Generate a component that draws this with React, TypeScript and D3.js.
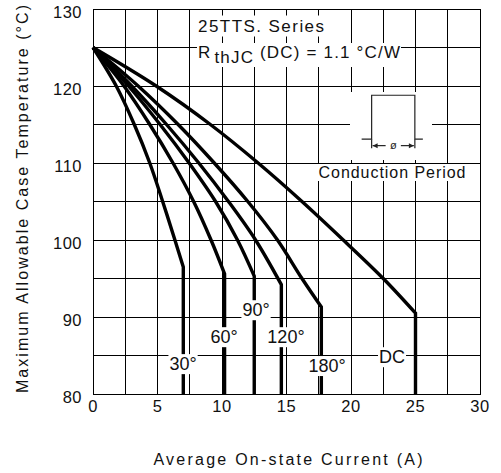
import React, { useLayoutEffect, useRef, useState } from "react";
import * as d3 from "d3";

const W = 501;
const H = 473;

const xTicks = [0, 5, 10, 15, 20, 25, 30];
const yTicks = [80, 90, 100, 110, 120, 130];
const xGrid = [0, 2.5, 5, 7.5, 10, 12.5, 15, 17.5, 20, 22.5, 25, 27.5, 30];
const yGrid = [80, 85, 90, 95, 100, 105, 110, 115, 120, 125, 130];

// [current A, case temperature °C]
const curve30: [number, number][] = [[0, 125], [1.8, 120], [3.2, 115], [4.4, 110], [5.4, 105], [6.35, 100], [7.0, 96.5]];
const curve60: [number, number][] = [[0, 125], [2.4, 120], [4.4, 115], [6.2, 110], [7.8, 105], [9.15, 100], [10.2, 95.6]];
const curve90: [number, number][] = [[0, 125], [2.75, 120], [5.2, 115], [7.45, 110], [9.5, 105], [11.2, 100], [12.5, 95.3]];
const curve120: [number, number][] = [[0, 125], [3.0, 120], [5.7, 115], [8.2, 110], [10.5, 105], [12.6, 100], [14.6, 94.2]];
const curve180: [number, number][] = [[0, 125], [3.5, 120], [6.6, 115], [9.4, 110], [12.0, 105], [14.3, 100], [16.2, 95], [17.7, 91.3]];
const curveDC: [number, number][] = [[0, 125], [4.9, 120], [9.1, 115], [12.8, 110], [16.2, 105], [19.4, 100], [22.5, 95], [25, 90.5]];

const curves = [curve30, curve60, curve90, curve120, curve180, curveDC];
const curveLabels = ["30°", "60°", "90°", "120°", "180°", "DC"];
// label anchor positions (current, temperature of baseline)
const labelX = [6.98, 10.16, 12.64, 14.96, 18.14, 23.18];
const labelY = [83.1, 86.6, 90.1, 86.6, 82.85, 84.0];

const FONT = "'Liberation Sans', Arial, Helvetica, sans-serif";

const x = d3.scaleLinear().domain([0, 30]).range([93, 480]);
const y = d3.scaleLinear().domain([80, 130]).range([394, 9]);

function BoxedText(props: {
  x: number; y: number; size: number; anchor?: string; padX?: number; padY?: number;
  textLength?: number; children: React.ReactNode;
}) {
  const ref = useRef<SVGTextElement>(null);
  const [box, setBox] = useState<{ x: number; y: number; width: number; height: number } | null>(null);
  useLayoutEffect(() => {
    if (ref.current) {
      const b = ref.current.getBBox();
      setBox({ x: b.x, y: b.y, width: b.width, height: b.height });
    }
  }, []);
  const px = props.padX ?? 2;
  const py = props.padY ?? 0;
  return (
    <g>
      {box && (
        <rect x={box.x - px} y={box.y - py} width={box.width + 2 * px} height={box.height + 2 * py} fill="#fff" />
      )}
      <text
        ref={ref}
        x={props.x}
        y={props.y}
        fontSize={props.size}
        textAnchor={props.anchor ?? "start"}
        fontFamily={FONT}
        fill="#111"
        textLength={props.textLength}
        lengthAdjust={props.textLength ? "spacing" : undefined}
      >
        {props.children}
      </text>
    </g>
  );
}

export default function App() {
  const line = d3
    .line<[number, number]>()
    .x((d) => x(d[0]))
    .y((d) => y(d[1]))
    .curve(d3.curveCatmullRom.alpha(0.5));

  const paths = curves.map((c) => {
    const last = c[c.length - 1];
    return `${line(c)}L${x(last[0])},${y(80)}`;
  });

  // inset anchor (pulse diagram)
  const pl = x(21.6);
  const pr = x(24.95);
  const pt = y(118.8);
  const pb = y(113.1);

  return (
    <svg width={W} height={H} style={{ position: "absolute", left: 0, top: 0 }} fontFamily={FONT}>
      <rect width={W} height={H} fill="#fff" />
      {/* grid */}
      <g stroke="#000" strokeWidth={1} shapeRendering="crispEdges">
        {xGrid.map((g) => (
          <line key={"x" + g} x1={x(g)} x2={x(g)} y1={y(80)} y2={y(130)} />
        ))}
        {yGrid.map((g) => (
          <line key={"y" + g} x1={x(0)} x2={x(30)} y1={y(g)} y2={y(g)} />
        ))}
        <rect x={x(0)} y={y(130)} width={x(30) - x(0)} height={y(80) - y(130)} fill="none" />
      </g>

      {/* header texts */}
      <BoxedText x={198} y={31.5} size={17} textLength={126} padX={1} padY={1}>
        25TTS. Series
      </BoxedText>
      <BoxedText x={198} y={58} size={17} textLength={202} padX={1} padY={0}>
        R<tspan dx={3} dy={5}>thJC</tspan>
        <tspan dy={-5}> (DC) = 1.1 °C/W</tspan>
      </BoxedText>

      {/* inset */}
      <rect x={350} y={92} width={82} height={68} fill="#fff" />
      <g stroke="#222" strokeWidth={1.2} fill="none">
        <path d={`M${pl - 10},${pb}H${pl}V${pt}H${pr}V${pb}H${pr + 8}`} />
        <line x1={pl} x2={pl} y1={pb} y2={pb + 9} />
        <line x1={pr} x2={pr} y1={pb} y2={pb + 9} />
        <line x1={pl + 1} x2={pl + 14} y1={pb + 6.5} y2={pb + 6.5} />
        <line x1={pr - 14} x2={pr - 1} y1={pb + 6.5} y2={pb + 6.5} />
      </g>
      <g fill="#222">
        <path d={`M${pl + 1},${pb + 6.5}l5,-2.5v5z`} />
        <path d={`M${pr - 1},${pb + 6.5}l-5,-2.5v5z`} />
      </g>
      <text x={(pl + pr) / 2} y={pb + 10} fontSize={11} textAnchor="middle" fill="#222">
        ø
      </text>
      <BoxedText x={392} y={178} size={16} anchor="middle" textLength={147} padX={2} padY={0}>
        Conduction Period
      </BoxedText>

      {/* curves */}
      <g fill="none" stroke="#000" strokeWidth={3.4} strokeLinejoin="miter">
        {paths.map((p, i) => (
          <path key={i} d={p} />
        ))}
      </g>

      {/* curve labels */}
      {curveLabels.map((l, i) => (
        <BoxedText key={l} x={x(labelX[i])} y={y(labelY[i])} size={18} anchor="middle" padX={1} padY={0}>
          {l}
        </BoxedText>
      ))}

      {/* tick labels */}
      <g fontSize={16.5} fill="#111">
        {xTicks.map((t) => (
          <text key={"xt" + t} x={x(t)} y={412} textAnchor="middle" letterSpacing={0.5}>
            {t}
          </text>
        ))}
        {yTicks.map((t) => (
          <text key={"yt" + t} x={82} y={y(t) + 8.5} textAnchor="end" letterSpacing={0.5}>
            {t}
          </text>
        ))}
      </g>

      {/* axis titles */}
      <text x={288} y={465} fontSize={16} textAnchor="middle" fill="#111" textLength={269} lengthAdjust="spacing">
        Average On-state Current (A)
      </text>
      <text
        transform={`translate(28,199) rotate(-90)`}
        fontSize={16}
        textAnchor="middle"
        fill="#111"
        textLength={388}
        lengthAdjust="spacing"
      >
        Maximum Allowable Case Temperature (°C)
      </text>
    </svg>
  );
}
